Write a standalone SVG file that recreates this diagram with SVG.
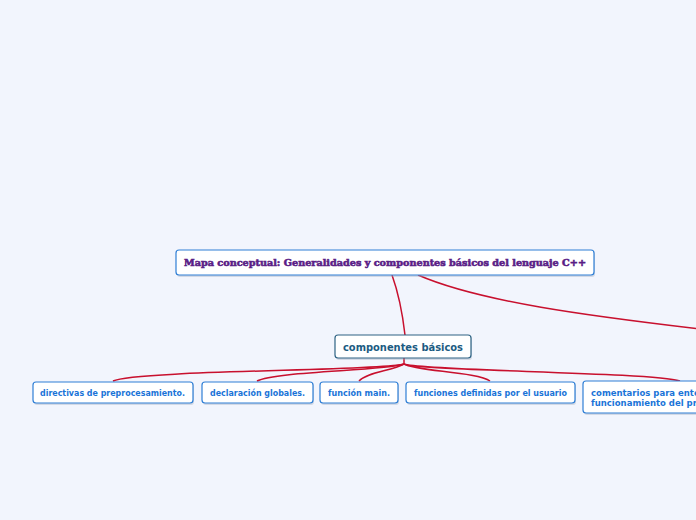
<svg xmlns="http://www.w3.org/2000/svg" width="696" height="520" viewBox="0 0 696 520">
<defs>
<style>
.bg{fill:#f2f5fd}
.box{fill:#ffffff;stroke:#2f7fd6;stroke-width:1.2}
.shadow{fill:#9aa6b8;opacity:0.35}
.sub{fill:#ffffff;stroke:#2e6384;stroke-width:1.2}
.t{font-family:"DejaVu Sans",Verdana,sans-serif;font-weight:bold;font-size:8.5px;fill:#1a74d8}
.ts{font-family:"DejaVu Sans",Verdana,sans-serif;font-weight:bold;font-size:11px;fill:#1b5b82}
.tr{font-family:"DejaVu Serif","Liberation Serif",serif;font-weight:900;font-size:10px;fill:#5a1d86;stroke:#5a1d86;stroke-width:0.6}
.c{fill:none;stroke:#c8102e;stroke-width:1.5}
</style>
</defs>
<rect class="bg" x="0" y="0" width="696" height="520"/>
<g id="connectors">
<path class="c" d="M392,275 Q401,300 405,335"/>
<path class="c" d="M418,275 C480,302 590,316 700,329"/>
<path class="c" d="M404,358 V364"/>
<path class="c" d="M404,364 C385,371 135,370 113,381"/>
<path class="c" d="M404,364 C385,371 275,371 257,381"/>
<path class="c" d="M404,364 C392,371 367,372 359,381"/>
<path class="c" d="M404,364 C415,371 478,372 490,381"/>
<path class="c" d="M404,364 C420,371 650,372 680,381"/>
</g>
<g id="root">
<rect class="shadow" x="177" y="251" width="418" height="26" rx="3"/>
<rect class="box" x="176" y="250" width="418" height="25" rx="3"/>
<text class="tr" x="184" y="266" textLength="402" lengthAdjust="spacingAndGlyphs">Mapa conceptual: Generalidades y componentes básicos del lenguaje C++</text>
</g>
<g id="componentes">
<rect class="shadow" x="336" y="336" width="136" height="24" rx="3"/>
<rect class="sub" x="335" y="335" width="136" height="23" rx="3"/>
<text class="ts" x="343" y="351" textLength="120" lengthAdjust="spacingAndGlyphs">componentes básicos</text>
</g>
<g id="directivas">
<rect class="shadow" x="34" y="383" width="160" height="22" rx="3"/>
<rect class="box" x="33" y="382" width="160" height="21" rx="3"/>
<text class="t" x="40" y="396" textLength="145" lengthAdjust="spacingAndGlyphs">directivas de preprocesamiento.</text>
</g>
<g id="declaracion">
<rect class="shadow" x="203" y="383" width="111" height="22" rx="3"/>
<rect class="box" x="202" y="382" width="111" height="21" rx="3"/>
<text class="t" x="210" y="396" textLength="95" lengthAdjust="spacingAndGlyphs">declaración globales.</text>
</g>
<g id="main">
<rect class="shadow" x="321" y="383" width="78" height="22" rx="3"/>
<rect class="box" x="320" y="382" width="78" height="21" rx="3"/>
<text class="t" x="328" y="396" textLength="62" lengthAdjust="spacingAndGlyphs">función main.</text>
</g>
<g id="funciones">
<rect class="shadow" x="407" y="383" width="169" height="22" rx="3"/>
<rect class="box" x="406" y="382" width="169" height="21" rx="3"/>
<text class="t" x="414" y="396" textLength="153" lengthAdjust="spacingAndGlyphs">funciones definidas por el usuario</text>
</g>
<g id="comentarios">
<rect class="shadow" x="584" y="382" width="130" height="33" rx="3"/>
<rect class="box" x="583" y="381" width="130" height="32" rx="3"/>
<text class="t" x="591" y="396">comentarios para entender el</text>
<text class="t" x="591" y="405.5">funcionamiento del programa</text>
</g>
</svg>
